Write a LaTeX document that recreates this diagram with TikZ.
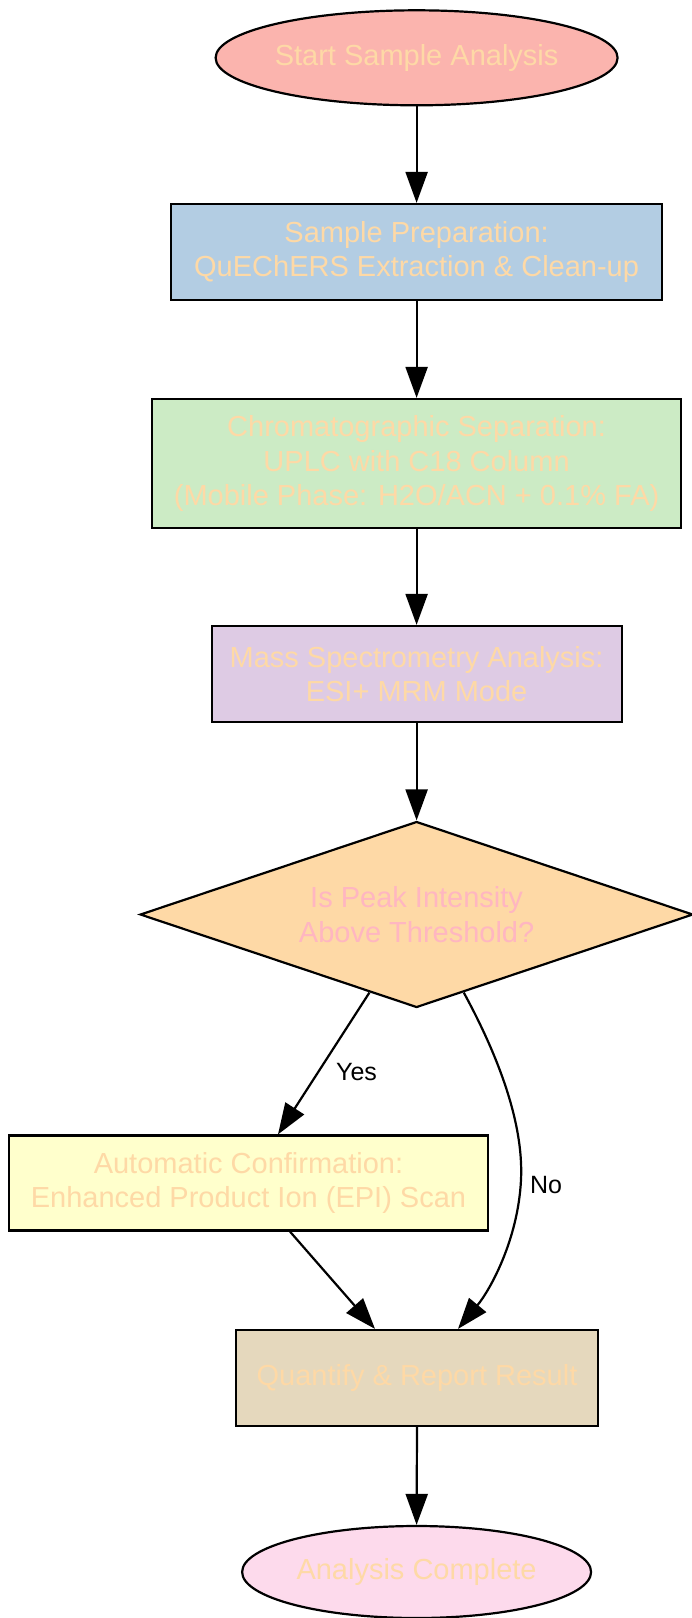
\documentclass[tikz,border=0pt]{standalone}
\usepackage{fontspec}
\setmainfont{Liberation Sans}
\usetikzlibrary{shapes.geometric,arrows.meta,calc}
\definecolor{cRed}{HTML}{FBB4AE}
\definecolor{cBlue}{HTML}{B3CDE3}
\definecolor{cGreen}{HTML}{CCEBC5}
\definecolor{cPurple}{HTML}{DECBE4}
\definecolor{cOrange}{HTML}{FED9A6}
\definecolor{cYellow}{HTML}{FFFFCC}
\definecolor{cTan}{HTML}{E5D8BD}
\definecolor{cPink}{HTML}{FDDAEC}
\definecolor{txtPeach}{HTML}{FED9A6}
\definecolor{txtPink}{HTML}{FFB6C1}
\tikzset{
  base/.style={draw=black, line width=2.2pt, inner sep=0pt, align=center,
    font=\fontsize{29}{34.5}\selectfont, text=txtPeach},
  stepbox/.style={base, rectangle},
  terminal/.style={base, ellipse},
  decision/.style={base, diamond, shape aspect=2.97, text=txtPink},
  conn/.style={line width=2.2pt, -{Triangle[length=31pt,width=22pt]}},
  elabel/.style={font=\fontsize{25}{30}\selectfont, text=black}
}
\begin{document}
\begin{tikzpicture}[x=1pt,y=-1pt]
\useasboundingbox (0,0) rectangle (692,1618);
\node[terminal, fill=cRed, minimum width=402pt, minimum height=95pt] (start) at (416.6,57.8) {Start Sample Analysis};
\node[stepbox, fill=cBlue, minimum width=491pt, minimum height=96pt] (prep) at (416.6,252) {Sample Preparation:\\QuEChERS Extraction \& Clean-up};
\node[stepbox, fill=cGreen, minimum width=529pt, minimum height=129pt] (chrom) at (416.6,463.5) {Chromatographic Separation:\\UPLC with C18 Column\\(Mobile Phase: H2O/ACN + 0.1\% FA)};
\node[stepbox, fill=cPurple, minimum width=410pt, minimum height=96pt] (ms) at (416.6,674) {Mass Spectrometry Analysis:\\ESI+ MRM Mode};
\node[decision, fill=cOrange, minimum width=553pt, minimum height=186pt] (dia) at (416.6,914.5) {Is Peak Intensity\\Above Threshold?};
\node[stepbox, fill=cYellow, minimum width=478.5pt, minimum height=95pt] (conf) at (248.5,1183) {Automatic Confirmation:\\Enhanced Product Ion (EPI) Scan};
\node[stepbox, fill=cTan, minimum width=362pt, minimum height=96pt] (quant) at (417,1378) {Quantify \& Report Result};
\node[terminal, fill=cPink, minimum width=349pt, minimum height=92pt] (done) at (416.6,1572) {Analysis Complete};

\draw[conn] (start.south) -- (prep.north);
\draw[conn] (prep.south) -- (chrom.north);
\draw[conn] (chrom.south) -- (ms.north);
\draw[conn] (ms.south) -- (dia.north);
\draw[conn] ($(dia.south)!0.17!(dia.west)$) -- ([xshift=29.5pt]conf.north);
\draw[conn] ($(dia.south)!0.17!(dia.east)$) .. controls (495,1050) and (524,1120) .. (521,1180)
   .. controls (518,1240) and (490,1290) .. ([xshift=41pt]quant.north);
\draw[conn] ([xshift=41.5pt]conf.south) -- ([xshift=-42pt]quant.north);
\draw[conn] (quant.south) -- (done.north);
\node[elabel] (lyes) at (356.5,1072) {Yes};
\node[elabel] (lno) at (546,1185) {No};
\end{tikzpicture}
\end{document}
